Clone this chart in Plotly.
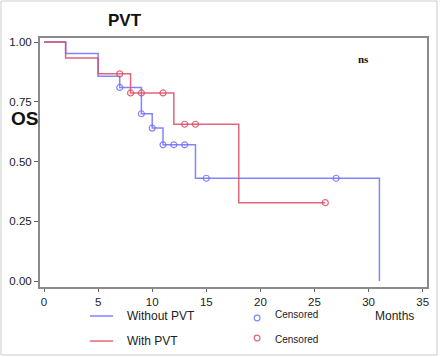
import plotly.graph_objects as go

# Kaplan-Meier step data
blue_t = [0, 2, 5, 7, 9, 10, 11, 14, 31]
blue_s = [1.0, 0.952, 0.857, 0.81, 0.70, 0.64, 0.57, 0.43, 0.0]
red_t = [0, 2, 5, 8, 12, 18, 26]
red_s = [1.0, 0.933, 0.867, 0.787, 0.656, 0.328, 0.328]

blue_cens_t = [7, 9, 10, 11, 12, 13, 15, 27]
blue_cens_s = [0.81, 0.70, 0.64, 0.57, 0.57, 0.57, 0.43, 0.43]
red_cens_t = [7, 8, 9, 11, 13, 14, 26]
red_cens_s = [0.867, 0.787, 0.787, 0.787, 0.656, 0.656, 0.328]

x_ticks = [0, 5, 10, 15, 20, 25, 30, 35]
y_ticks = [0.0, 0.25, 0.5, 0.75, 1.0]
y_labels = ["0.00", "0.25", "0.50", "0.75", "1.00"]

BLUE = "rgba(110,110,255,0.85)"
RED = "rgba(220,75,95,0.85)"

fig = go.Figure()
fig.add_trace(go.Scatter(x=blue_t, y=blue_s, mode="lines", line=dict(color=BLUE, width=1.5, shape="hv"), showlegend=False))
fig.add_trace(go.Scatter(x=red_t, y=red_s, mode="lines", line=dict(color=RED, width=1.5, shape="hv"), showlegend=False))
fig.add_trace(go.Scatter(x=blue_cens_t, y=blue_cens_s, mode="markers",
                         marker=dict(symbol="circle-open", size=6, color=BLUE, line=dict(width=1.2, color=BLUE)), showlegend=False))
fig.add_trace(go.Scatter(x=red_cens_t, y=red_cens_s, mode="markers",
                         marker=dict(symbol="circle-open", size=6, color=RED, line=dict(width=1.2, color=RED)), showlegend=False))

font = dict(family="Arial, Liberation Sans, sans-serif", size=12, color="#222")
tfont = dict(family="Arial, Liberation Sans, sans-serif", size=11.5, color="#222")

fig.update_layout(
    width=440, height=357,
    margin=dict(l=40, r=13, t=38, b=70, autoexpand=False),
    paper_bgcolor="white", plot_bgcolor="white",
    font=font,
    xaxis=dict(range=[-0.37, 35.4], tickvals=x_ticks, showgrid=False, zeroline=False, automargin=False,
               showline=True, linecolor="#8a8a8a", linewidth=2, mirror=True,
               ticks="outside", ticklen=3, tickcolor="#666", tickfont=tfont),
    yaxis=dict(range=[-0.025, 1.017], tickvals=y_ticks, ticktext=y_labels, showgrid=False, zeroline=False, automargin=False,
               showline=True, linecolor="#8a8a8a", linewidth=2, mirror=True,
               ticks="outside", ticklen=4, tickcolor="#666", tickfont=tfont),
)

# outer border
fig.add_shape(type="rect", xref="paper", yref="paper", x0=-0.1008, x1=1.0258, y0=-0.273, y1=1.1486,
              line=dict(color="#cccccc", width=1))

ann = []
ann.append(dict(text="<b>PVT</b>", x=0.22, y=1.072, font=dict(family="Arial, Liberation Sans, sans-serif", size=17, color="#111")))
ann.append(dict(text="<b>OS</b>", x=-0.039, y=0.675, font=dict(family="Arial, Liberation Sans, sans-serif", size=19, color="#111")))
ann.append(dict(text="<b>ns</b>", x=0.835, y=0.916, font=dict(family="Liberation Serif, Times New Roman, serif", size=11, color="#111")))
ann.append(dict(text="Without PVT", x=0.2196, y=-0.118, xanchor="left", font=font))
ann.append(dict(text="With PVT", x=0.2196, y=-0.215, xanchor="left", font=font))
ann.append(dict(text="Censored", x=0.602, y=-0.11, xanchor="left", font=dict(family="Arial, Liberation Sans, sans-serif", size=10, color="#222")))
ann.append(dict(text="Censored", x=0.602, y=-0.211, xanchor="left", font=dict(family="Arial, Liberation Sans, sans-serif", size=10, color="#222")))
ann.append(dict(text="Months", x=0.917, y=-0.115, font=font))
for a in ann:
    a.update(xref="paper", yref="paper", showarrow=False)
    if "xanchor" not in a:
        a["xanchor"] = "center"
    a["yanchor"] = "middle"
    fig.add_annotation(**a)

# legend line samples
fig.add_shape(type="line", xref="paper", yref="paper", x0=0.129, x1=0.189, y0=-0.1165, y1=-0.1165, line=dict(color=BLUE, width=1.5))
fig.add_shape(type="line", xref="paper", yref="paper", x0=0.129, x1=0.189, y0=-0.217, y1=-0.217, line=dict(color=RED, width=1.5))
# legend censor circles
for yc, col in [(-0.1245, BLUE), (-0.205, RED)]:
    fig.add_shape(type="circle", xref="paper", yref="paper",
                  x0=0.561 - 0.0075, x1=0.561 + 0.0075, y0=yc - 0.0115, y1=yc + 0.0115,
                  line=dict(color=col, width=1.2))

fig.write_html("out.html", config={"displayModeBar": False},
               post_script="document.body.style.margin='0';")
